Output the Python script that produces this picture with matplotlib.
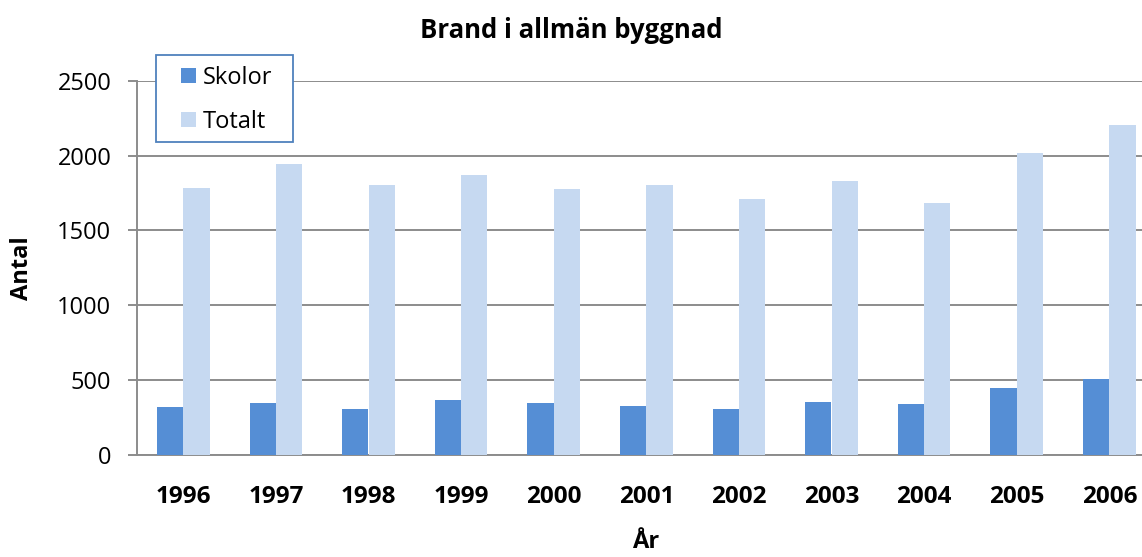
import matplotlib
matplotlib.use("Agg")
import matplotlib.pyplot as plt
from matplotlib.patches import Rectangle
import numpy as np

years = ["1996", "1997", "1998", "1999", "2000", "2001", "2002", "2003", "2004", "2005", "2006"]
skolor = [318, 345, 305, 363, 343, 323, 305, 354, 340, 443, 506]
totalt = [1781, 1942, 1804, 1873, 1779, 1806, 1712, 1832, 1685, 2018, 2203]
yticks = [0, 500, 1000, 1500, 2000, 2500]

plt.rcParams['font.family'] = ['Open Sans', 'DejaVu Sans']

W, H = 1142, 557
fig = plt.figure(figsize=(W / 100, H / 100), dpi=100)
left, right, bottom, top = 137, 1155.6, 454.5, 81
ax = fig.add_axes([left / W, 1 - bottom / H, (right - left) / W, (bottom - top) / H])

x = np.arange(len(years))
bw = 0.284
grid_c = '#8C8C8C'
ax.bar(x - bw / 2, skolor, bw, color='#558ED5', label='Skolor', zorder=3)
ax.bar(x + bw / 2, totalt, bw, color='#C6D9F1', label='Totalt', zorder=3)

ax.set_xlim(-0.5, len(years) - 0.5)
ax.set_ylim(0, 2500)
ax.set_yticks(yticks)
ax.set_yticklabels([str(v) for v in yticks], fontsize=17)
ax.set_xticks(x)
ax.set_xticklabels(years, fontsize=17.5, fontweight='bold')
ax.tick_params(axis='x', length=0, pad=22)
ax.tick_params(axis='y', length=6.5, width=1.4, color=grid_c, pad=12)
ax.yaxis.grid(True, color=grid_c, linewidth=1.4, zorder=0)
ax.set_axisbelow(True)
for s in ['top', 'right']:
    ax.spines[s].set_visible(False)
for s in ['left', 'bottom']:
    ax.spines[s].set_color(grid_c)
    ax.spines[s].set_linewidth(1.4)

fig.text(0.5, 1 - 31 / H, 'Brand i allmän byggnad', ha='center', va='center',
         fontsize=18.5, fontweight='bold')
fig.text(646 / W, 1 - 542 / H, 'År', ha='center', va='center', fontsize=17, fontweight='bold')
fig.text(22.5 / W, 1 - 268 / H, 'Antal', ha='center', va='center', rotation=90,
         fontsize=17, fontweight='bold')

# legend frame and frameless legend inside
lx0, ly0, lx1, ly1 = 155.7, 55, 292.7, 141.7
frame = Rectangle((lx0 / W, 1 - ly1 / H), (lx1 - lx0) / W, (ly1 - ly0) / H,
                  transform=fig.transFigure, facecolor='white',
                  edgecolor='#4F81BD', linewidth=1.3, zorder=4.5, clip_on=False)
ax.add_patch(frame)
leg = ax.legend(loc='upper left', bbox_to_anchor=(181 / W, 1 - 66 / H),
                bbox_transform=fig.transFigure, fontsize=17, frameon=False,
                handlelength=0.62, handleheight=0.62,
                handletextpad=0.3, labelspacing=0.83, borderpad=0,
                borderaxespad=0)
leg.set_zorder(6)

fig.savefig('out.png', dpi=100)
